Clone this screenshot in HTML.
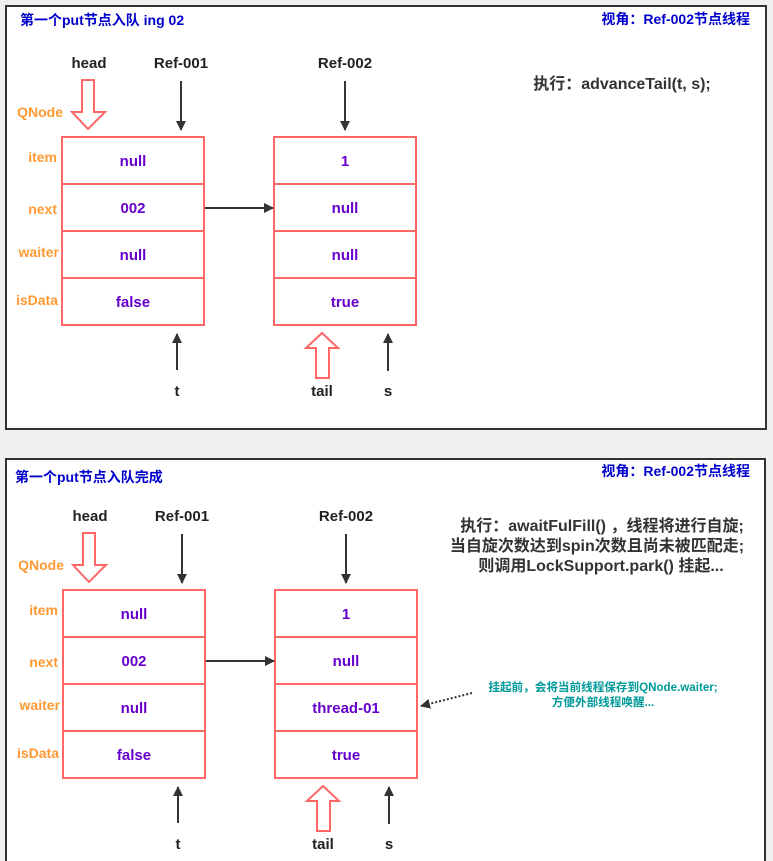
<!DOCTYPE html>
<html><head><meta charset="utf-8"><style>
html,body{margin:0;padding:0;background:#f0f0f0;}
svg{display:block;}
text{font-family:"Liberation Sans","Noto Sans CJK SC",sans-serif;font-weight:bold;}
.lbl{fill:#ff9933;font-size:14px;text-anchor:end;}
.val{fill:#6600cc;font-size:15px;text-anchor:middle;}
.ref{fill:#222;font-size:15px;text-anchor:middle;}
.box{fill:#fff;stroke:#ff6666;stroke-width:2;}
.blk{stroke:#333;stroke-width:2;fill:none;}
.hol{fill:#fff;stroke:#ff6666;stroke-width:2;}
</style></head><body>
<svg width="773" height="861" viewBox="0 0 773 861" xmlns="http://www.w3.org/2000/svg">
<defs><marker id="ah" markerWidth="10" markerHeight="10" refX="9" refY="5" orient="auto" markerUnits="userSpaceOnUse"><path d="M0,0 L10,5 L0,10 z" fill="#333"/></marker></defs>
<rect x="0" y="0" width="773" height="861" fill="#f0f0f0"/>
<rect x="6" y="6" width="760" height="423" fill="#fff" stroke="#333" stroke-width="2"/>
<rect x="6" y="459" width="759" height="410" fill="#fff" stroke="#333" stroke-width="2"/>

<text x="20" y="25" fill="#0000cc" font-size="14">第一个put节点入队 ing 02</text>
<text x="750" y="24" fill="#0000cc" font-size="14" text-anchor="end">视角：Ref-002节点线程</text>
<text x="622" y="89" fill="#333" font-size="16" text-anchor="middle">执行：advanceTail(t, s);</text>

<text x="15" y="482" fill="#0000cc" font-size="14">第一个put节点入队完成</text>
<text x="750" y="476" fill="#0000cc" font-size="14" text-anchor="end">视角：Ref-002节点线程</text>
<text x="602" y="531" fill="#333" font-size="16" text-anchor="middle">执行：awaitFulFill() ，线程将进行自旋;</text>
<text x="597" y="551" fill="#333" font-size="16" text-anchor="middle">当自旋次数达到spin次数且尚未被匹配走;</text>
<text x="601" y="571" fill="#333" font-size="16" text-anchor="middle">则调用LockSupport.park() 挂起...</text>
<text x="603" y="691" fill="#009999" font-size="11.6" text-anchor="middle">挂起前，会将当前线程保存到QNode.waiter;</text>
<text x="603" y="706" fill="#009999" font-size="11.6" text-anchor="middle">方便外部线程唤醒...</text>
<line x1="472" y1="693" x2="421" y2="706" stroke="#333" stroke-width="2" stroke-dasharray="2,2" marker-end="url(#ah)"/>

<g id="d1">
<text x="89" y="68" class="ref">head</text>
<text x="181" y="68" class="ref">Ref-001</text>
<text x="345" y="68" class="ref">Ref-002</text>
<path class="hol" d="M82,80 H94 V112 H105 L88,129 L72,112 H82 Z"/>
<line class="blk" x1="181" y1="81" x2="181" y2="130" marker-end="url(#ah)"/>
<line class="blk" x1="345" y1="81" x2="345" y2="130" marker-end="url(#ah)"/>
<text x="63" y="117" class="lbl">QNode</text>
<text x="57" y="162" class="lbl">item</text>
<text x="57" y="214" class="lbl">next</text>
<text x="59" y="257" class="lbl">waiter</text>
<text x="58" y="305" class="lbl">isData</text>
<rect class="box" x="62" y="137" width="142" height="47"/>
<rect class="box" x="62" y="184" width="142" height="47"/>
<rect class="box" x="62" y="231" width="142" height="47"/>
<rect class="box" x="62" y="278" width="142" height="47"/>
<rect class="box" x="274" y="137" width="142" height="47"/>
<rect class="box" x="274" y="184" width="142" height="47"/>
<rect class="box" x="274" y="231" width="142" height="47"/>
<rect class="box" x="274" y="278" width="142" height="47"/>
<text x="133" y="166" class="val">null</text>
<text x="133" y="213" class="val">002</text>
<text x="133" y="260" class="val">null</text>
<text x="133" y="307" class="val">false</text>
<text x="345" y="166" class="val">1</text>
<text x="345" y="213" class="val">null</text>
<text x="345" y="307" class="val">true</text>
<line class="blk" x1="205" y1="208" x2="273" y2="208" marker-end="url(#ah)"/>
<line class="blk" x1="177" y1="370" x2="177" y2="334" marker-end="url(#ah)"/>
<path class="hol" d="M316,378 H329 V348 H338 L322,333 L306,348 H316 Z"/>
<line class="blk" x1="388" y1="371" x2="388" y2="334" marker-end="url(#ah)"/>
<text x="177" y="396" class="ref" font-size="17">t</text>
<text x="322" y="396" class="ref" font-size="17">tail</text>
<text x="388" y="396" class="ref" font-size="17">s</text>
</g>
<text x="345" y="260" class="val">null</text>

<g transform="translate(1,453)">
<use href="#d1"/>
</g>
<rect x="276" y="685" width="140" height="45" fill="#fff"/>
<text x="346" y="713" class="val">thread-01</text>
</svg>
</body></html>
